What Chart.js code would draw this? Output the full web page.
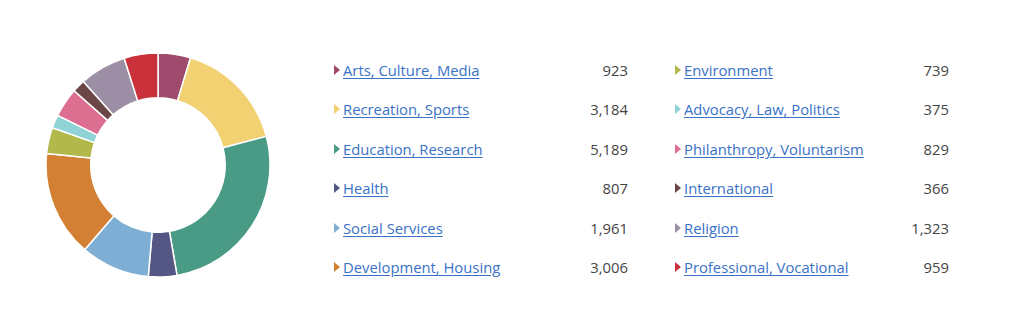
<!DOCTYPE html>
<html>
<head>
<meta charset="utf-8">
<script src="https://cdn.jsdelivr.net/npm/chart.js@4"></script>
<style>
  html, body { margin: 0; padding: 0; background: #fff; }
  body { width: 1024px; height: 329px; position: relative; overflow: hidden; font-family: "Open Sans", sans-serif; }
  #wrap { position: absolute; left: 44px; top: 51px; width: 228px; height: 228px; }
  .row { position: absolute; height: 20px; font-size: 14.8px; line-height: 20px; }
  .row .tri { position: absolute; left: 0; top: 5px; width: 0; height: 0;
    border-top: 5px solid transparent; border-bottom: 5px solid transparent; border-left-width: 6px; border-left-style: solid; }
  .row a { position: absolute; left: 9px; top: 0; color: #3a72c6; text-decoration: underline; text-underline-offset: 2px; white-space: nowrap; }
  .row .val { position: absolute; right: 0; top: 0; color: #444; }
</style>
</head>
<body>
<div id="wrap"><canvas id="donut" width="228" height="228"></canvas></div>
<div id="legend"></div>
<script>
var categories = ["Arts, Culture, Media", "Recreation, Sports", "Education, Research", "Health",
  "Social Services", "Development, Housing", "Environment", "Advocacy, Law, Politics",
  "Philanthropy, Voluntarism", "International", "Religion", "Professional, Vocational"];
var counts = [923, 3184, 5189, 807, 1961, 3006, 739, 375, 829, 366, 1323, 959];
var colors = ["#9e4b6d", "#f2d173", "#4a9b86", "#545683", "#7eaed3", "#d48034",
  "#b3b84a", "#8fd3d6", "#dc6f91", "#6b4646", "#9c8fa5", "#c9313b"];

// legend, two columns of six
var legend = document.getElementById("legend");
categories.forEach(function(name, i) {
  var col = Math.floor(i / 6), r = i % 6;
  var row = document.createElement("div");
  row.className = "row";
  var left = col === 0 ? 334 : 675;
  var right = col === 0 ? 628 : 949;
  row.style.left = left + "px";
  row.style.width = (right - left) + "px";
  row.style.top = (60 + r * 39.4) + "px";
  row.innerHTML = '<span class="tri" style="border-left-color:' + colors[i] + '"></span>' +
    '<a href="#">' + name + '</a><span class="val">' + counts[i].toLocaleString("en-US") + '</span>';
  legend.appendChild(row);
});

new Chart(document.getElementById("donut"), {
  type: "doughnut",
  data: {
    labels: categories,
    datasets: [{
      data: counts,
      backgroundColor: colors,
      borderColor: "#fff",
      borderWidth: 1.5
    }]
  },
  options: {
    responsive: false,
    animation: false,
    radius: 112,
    cutout: 68,
    plugins: { legend: { display: false }, tooltip: { enabled: false } }
  }
});
</script>
</body>
</html>
